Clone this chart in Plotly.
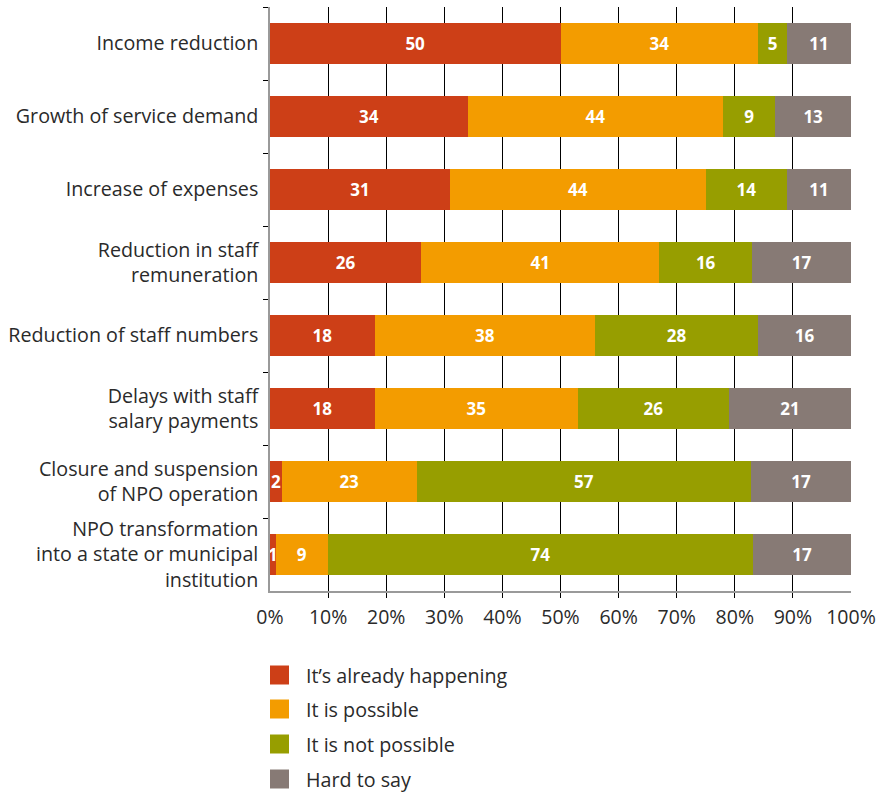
import plotly.graph_objects as go

# Survey items, top to bottom
categories = [
    "Income reduction",
    "Growth of service demand",
    "Increase of expenses",
    "Reduction in staff<br>remuneration",
    "Reduction of staff numbers",
    "Delays with staff<br>salary payments",
    "Closure and suspension<br>of NPO operation",
    "NPO transformation<br>into a state or municipal<br>institution",
]

series_names = [
    "It\u2019s already happening",
    "It is possible",
    "It is not possible",
    "Hard to say",
]

already_happening = [50, 34, 31, 26, 18, 18, 2, 1]
possible = [34, 44, 44, 41, 38, 35, 23, 9]
not_possible = [5, 9, 14, 16, 28, 26, 57, 74]
hard_to_say = [11, 13, 11, 17, 16, 21, 17, 17]

series_values = [already_happening, possible, not_possible, hard_to_say]
colors = ["#CD3F17", "#F39C00", "#979E00", "#877A75"]

x_ticks = [0, 10, 20, 30, 40, 50, 60, 70, 80, 90, 100]
x_tick_labels = [f"{v}%" for v in x_ticks]
grid_vals = x_ticks[1:-1]

FONT = "Open Sans"
TEXT_COLOR = "#2a2a2a"
LABEL_SIZE = 19.7

fig = go.Figure()

for name, vals, color in zip(series_names, series_values, colors):
    fig.add_trace(
        go.Bar(
            y=categories,
            x=vals,
            name=name,
            orientation="h",
            marker=dict(color=color, line=dict(width=0)),
            text=[str(v) for v in vals],
            textposition="inside",
            insidetextanchor="middle",
            textangle=0,
            textfont=dict(family=FONT, size=17, color="white", weight="bold"),
            showlegend=False,
            hoverinfo="skip",
        )
    )

# Invisible trace that carries the grid axis
fig.add_trace(
    go.Scatter(x=[0, 100], y=[categories[0], categories[0]], xaxis="x2",
               mode="markers", marker=dict(opacity=0), showlegend=False,
               hoverinfo="skip")
)

fig.update_layout(
    width=880,
    height=793,
    margin=dict(l=270, r=29, t=7, b=202),
    paper_bgcolor="white",
    plot_bgcolor="white",
    barmode="stack",
    barnorm="percent",
    bargap=0.45,
    uniformtext=dict(minsize=17, mode="show"),
    font=dict(family=FONT, size=LABEL_SIZE, color=TEXT_COLOR),
    xaxis=dict(
        range=[0, 100],
        tickvals=x_ticks,
        ticktext=x_tick_labels,
        showgrid=False,
        zeroline=False,
        showline=True,
        linecolor="#9a9a9a",
        linewidth=1.5,
        ticks="",
        ticklabelstandoff=8,
        automargin=False,
        tickfont=dict(family=FONT, size=19.5, color=TEXT_COLOR),
        fixedrange=True,
    ),
    xaxis2=dict(
        range=[0, 100],
        overlaying="x",
        side="bottom",
        tickvals=grid_vals,
        showticklabels=False,
        showgrid=True,
        gridcolor="#000000",
        gridwidth=1,
        zeroline=False,
        showline=False,
        ticks="outside",
        ticklen=6,
        tickcolor="#000000",
        tickwidth=1,
        automargin=False,
        layer="below traces",
    ),
    yaxis=dict(
        autorange="reversed",
        showgrid=False,
        zeroline=False,
        showline=True,
        linecolor="#9a9a9a",
        linewidth=1.5,
        ticks="outside",
        tickson="boundaries",
        ticklen=5,
        tickcolor="#000000",
        tickwidth=1,
        automargin=False,
        tickfont=dict(family=FONT, size=LABEL_SIZE, color=TEXT_COLOR),
        ticklabelstandoff=6,
    ),
)

# Legend drawn below the plot: colour squares and labels
plot_top, plot_bottom, plot_left, plot_width = 7, 591, 270, 581
plot_height = plot_bottom - plot_top
legend_centers_px = [675, 709, 744, 779]
square = 19
for name, color, cy in zip(series_names, colors, legend_centers_px):
    y0 = (plot_bottom - (cy + square / 2)) / plot_height
    y1 = (plot_bottom - (cy - square / 2)) / plot_height
    fig.add_shape(
        type="rect", xref="paper", yref="paper",
        x0=0, x1=square / plot_width, y0=y0, y1=y1,
        fillcolor=color, line=dict(width=0),
    )
    fig.add_annotation(
        xref="paper", yref="paper",
        x=(304 - plot_left) / plot_width, y=(plot_bottom - cy) / plot_height,
        text=name, showarrow=False, xanchor="left", yanchor="middle",
        font=dict(family=FONT, size=LABEL_SIZE, color=TEXT_COLOR),
    )

fig.write_html("out.html")
